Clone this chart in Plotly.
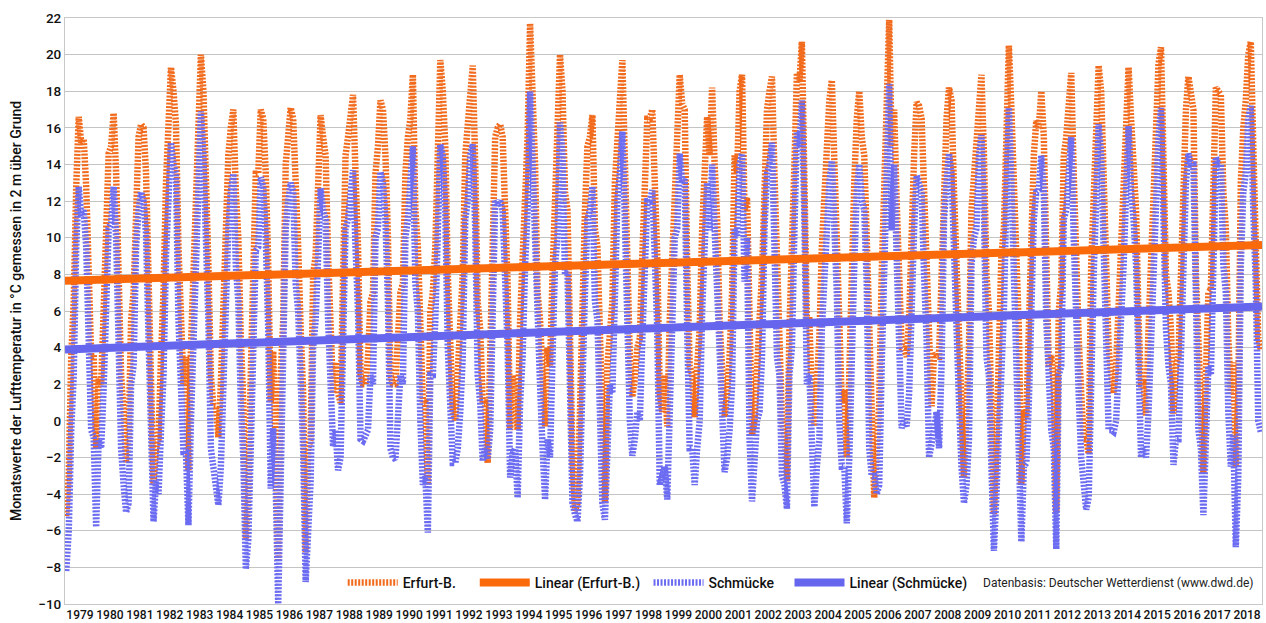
import plotly.graph_objects as go

# Monthly mean air temperature (°C), Jan..Dec per row, 1979-2018
erfurt = [
    -5.2, -3.0, 3.5, 6.5, 12.8, 16.6, 15.2, 15.4, 12.8, 8.6, 3.5, 3.6,      # 1979
    -1.5, 2.3, 2.0, 6.0, 11.0, 14.6, 15.0, 16.8, 13.5, 7.5, 2.5, 0.5,       # 1980
    -2.3, -1.0, 5.5, 7.0, 13.0, 15.5, 16.2, 16.0, 13.5, 8.5, 3.5, -3.5,     # 1981
    -1.5, -1.0, 3.5, 7.0, 13.0, 16.5, 19.3, 18.0, 16.2, 9.5, 5.5, 2.0,      # 1982
    3.5, -2.7, 4.0, 8.5, 11.5, 16.5, 20.0, 18.0, 14.0, 8.5, 2.5, 0.8,       # 1983
    0.8, -0.9, 2.0, 6.5, 10.5, 14.5, 16.0, 17.0, 12.5, 10.0, 4.5, 1.0,      # 1984
    -6.5, -4.0, 2.5, 7.5, 13.5, 13.5, 17.0, 16.5, 13.5, 8.5, 1.0, 3.8,      # 1985
    -1.0, -7.6, 2.5, 5.5, 14.0, 15.5, 17.1, 16.5, 11.5, 9.5, 5.0, 1.5,      # 1986
    -7.2, -1.5, -1.0, 8.0, 9.0, 13.0, 16.7, 15.5, 14.5, 9.0, 4.5, 1.5,      # 1987
    3.2, 1.5, 1.0, 8.0, 14.5, 15.5, 17.2, 17.8, 13.5, 9.5, 2.5, 2.0,        # 1988
    2.0, 3.5, 6.5, 7.0, 13.5, 15.0, 17.5, 17.0, 14.5, 10.0, 2.5, 2.0,       # 1989
    2.0, 5.5, 7.0, 7.5, 13.5, 15.5, 16.5, 18.9, 11.5, 9.5, 4.0, 1.0,        # 1990
    1.0, -3.5, 6.0, 7.0, 9.5, 14.0, 19.7, 18.0, 15.0, 8.0, 3.5, 0.5,        # 1991
    0.0, 2.5, 5.0, 8.0, 14.5, 16.5, 18.5, 19.4, 14.0, 6.5, 5.0, 1.0,        # 1992
    1.0, -2.3, 3.5, 10.0, 15.5, 16.0, 16.2, 15.5, 12.0, 7.5, -0.5, 2.5,     # 1993
    1.5, -0.5, 5.5, 8.5, 12.5, 15.5, 21.7, 18.0, 14.0, 7.0, 5.5, 2.5,       # 1994
    -0.3, 4.0, 3.0, 8.0, 12.5, 14.5, 20.0, 18.0, 12.5, 11.5, 3.0, -2.0,     # 1995
    -4.9, -4.5, 0.5, 8.0, 11.5, 15.0, 15.5, 16.7, 10.5, 9.5, 4.0, -2.0,     # 1996
    -4.5, 3.0, 5.5, 6.5, 13.0, 16.0, 17.5, 19.7, 14.0, 7.5, 3.5, 1.3,       # 1997
    2.3, 4.0, 4.5, 9.0, 14.0, 16.5, 16.5, 17.0, 13.0, 9.0, 1.5, 0.5,        # 1998
    2.5, -0.3, 5.5, 9.0, 13.5, 15.0, 18.9, 17.3, 17.0, 8.5, 3.0, 2.5,       # 1999
    0.2, 3.0, 5.0, 10.5, 14.5, 16.6, 14.5, 18.2, 14.0, 11.0, 5.5, 3.0,      # 2000
    0.2, 1.5, 3.5, 7.0, 14.5, 13.5, 18.0, 18.9, 11.5, 12.2, 3.5, -0.8,      # 2001
    0.0, 4.0, 5.5, 8.0, 14.0, 17.0, 18.0, 18.8, 13.5, 8.0, 5.5, 0.0,        # 2002
    -0.8, -3.3, 5.0, 8.5, 14.0, 19.0, 18.5, 20.7, 13.5, 5.5, 5.5, 1.0,      # 2003
    -0.3, 2.5, 4.5, 9.5, 12.5, 16.0, 17.5, 18.6, 14.0, 10.5, 4.0, 1.0,      # 2004
    1.7, -2.0, 2.5, 9.0, 13.0, 16.5, 18.0, 15.5, 14.5, 10.0, 3.0, 0.5,      # 2005
    -4.2, -1.5, 1.0, 8.0, 13.0, 16.5, 21.9, 15.0, 17.0, 12.0, 6.5, 4.0,     # 2006
    3.9, 3.5, 5.5, 11.5, 14.5, 17.4, 17.2, 16.5, 12.0, 8.0, 3.0, 0.8,       # 2007
    3.7, 3.5, 3.5, 8.0, 14.0, 16.5, 18.2, 17.5, 12.5, 9.0, 5.0, 1.0,        # 2008
    -3.1, 0.5, 4.0, 11.5, 13.5, 15.0, 18.0, 18.9, 14.5, 8.0, 6.0, 0.5,      # 2009
    -5.1, -1.5, 4.0, 9.0, 10.5, 16.5, 20.5, 17.0, 12.5, 7.5, 5.0, -3.5,     # 2010
    0.5, 0.2, 4.5, 11.5, 14.5, 16.4, 16.0, 18.0, 15.5, 9.0, 3.0, 3.6,       # 2011
    2.0, -5.0, 6.0, 7.5, 14.5, 15.5, 17.5, 19.0, 13.5, 8.0, 4.5, 1.5,       # 2012
    -1.0, -1.0, -1.8, 8.5, 12.0, 16.0, 19.4, 18.0, 13.0, 10.5, 4.0, 2.5,    # 2013
    1.5, 3.0, 6.5, 10.5, 12.5, 16.0, 19.3, 16.5, 14.5, 11.5, 5.5, 2.0,      # 2014
    2.0, 0.3, 5.0, 8.5, 12.5, 15.5, 19.5, 20.4, 13.0, 8.0, 7.0, 5.0,        # 2015
    0.4, 3.0, 3.5, 8.0, 13.5, 17.0, 18.8, 17.5, 17.0, 8.0, 3.5, 1.0,        # 2016
    -2.85, 2.5, 7.0, 7.2, 14.0, 18.2, 18.0, 17.8, 12.5, 10.5, 4.5, 1.5,     # 2017
    3.2, -2.5, 1.5, 13.0, 16.0, 17.5, 20.0, 20.7, 15.0, 11.0, 4.5, 3.9,     # 2018
]

schmuecke = [
    -8.2, -6.0, -0.5, 2.5, 9.5, 12.8, 11.2, 11.5, 9.5, 5.0, -0.5, -0.9,     # 1979
    -5.8, -1.0, -1.5, 1.8, 7.5, 10.5, 10.8, 12.8, 10.0, 3.5, -1.5, -3.5,    # 1980
    -5.0, -4.5, 2.0, 3.0, 9.5, 11.5, 12.5, 12.0, 10.2, 4.5, 0.0, -5.5,      # 1981
    -3.3, -4.0, -0.5, 2.5, 9.0, 13.0, 15.2, 14.0, 13.5, 5.5, 2.0, -1.7,     # 1982
    -1.7, -5.7, 0.0, 5.0, 7.5, 13.0, 16.9, 14.5, 10.5, 5.5, -1.5, -2.5,     # 1983
    -3.5, -4.6, -2.5, 2.5, 6.5, 10.5, 12.5, 13.5, 8.5, 6.5, 1.0, -2.0,      # 1984
    -8.1, -6.5, -1.5, 3.0, 9.3, 9.5, 13.3, 12.8, 10.0, 5.0, -3.7, -0.4,     # 1985
    -3.5, -10.0, -2.0, 1.5, 10.5, 12.0, 13.0, 12.5, 7.5, 6.0, 2.0, -1.5,    # 1986
    -8.8, -5.2, -3.3, 4.0, 5.5, 9.0, 12.7, 11.5, 11.0, 5.5, 1.0, -1.4,      # 1987
    -0.5, -2.7, -2.0, 3.5, 10.5, 11.0, 13.0, 13.7, 9.5, 6.0, -1.0, -1.1,    # 1988
    -0.8, -0.5, 2.5, 2.0, 10.0, 10.5, 13.6, 13.0, 11.0, 6.5, -1.5, -2.0,    # 1989
    -2.1, 0.5, 2.5, 2.0, 10.0, 11.0, 13.0, 15.0, 7.5, 6.0, 0.0, -3.5,       # 1990
    -3.0, -6.1, 2.5, 2.5, 5.5, 10.0, 15.1, 14.5, 11.5, 4.0, -0.5, -2.3,     # 1991
    -2.3, -1.5, 0.5, 3.5, 11.0, 12.0, 14.5, 15.1, 10.5, 2.5, 1.0, -2.2,     # 1992
    -1.5, -2.1, -0.5, 6.0, 12.0, 11.8, 12.0, 11.5, 8.0, 4.0, -3.1, -1.8,    # 1993
    -1.5, -4.2, 1.0, 3.5, 8.5, 11.5, 18.0, 14.0, 10.0, 3.5, 2.0, -1.5,      # 1994
    -4.3, -1.0, -2.0, 3.5, 8.5, 10.0, 16.3, 14.5, 8.0, 8.1, -1.0, -4.5,     # 1995
    -5.1, -5.5, -3.0, 3.5, 7.0, 11.0, 11.5, 12.8, 6.5, 5.5, -0.5, -4.5,     # 1996
    -5.4, -0.5, 2.0, 1.5, 9.0, 12.0, 13.5, 15.8, 11.0, 3.0, 0.0, -1.9,      # 1997
    -1.0, 0.5, 0.0, 4.5, 10.0, 12.0, 12.0, 12.6, 9.0, 5.0, -3.5, -3.0,      # 1998
    -2.5, -4.3, 1.0, 4.5, 10.0, 10.5, 14.6, 13.0, 13.2, 5.0, -1.5, -1.5,    # 1999
    -3.5, -1.5, 0.0, 6.0, 10.0, 13.0, 10.4, 14.0, 10.5, 7.0, 2.0, -1.0,     # 2000
    -2.8, -2.0, -0.5, 2.0, 10.5, 10.1, 14.0, 14.6, 7.6, 10.0, -1.0, -4.4,   # 2001
    -2.5, 0.0, 0.5, 3.5, 10.5, 13.5, 14.0, 15.2, 9.5, 3.5, 2.5, -3.0,       # 2002
    -3.5, -4.8, 2.5, 4.0, 10.5, 15.8, 15.0, 17.5, 11.0, 2.0, 2.5, -2.0,     # 2003
    -4.7, -2.5, -1.0, 5.0, 8.0, 11.5, 13.0, 14.2, 11.0, 7.0, 0.0, -2.5,     # 2004
    -2.5, -5.6, -2.0, 4.5, 8.5, 12.5, 14.0, 12.1, 11.5, 7.5, -1.5, -3.0,    # 2005
    -3.0, -4.0, -3.5, 3.0, 9.0, 13.0, 18.4, 10.4, 14.0, 9.0, 4.0, -0.4,     # 2006
    0.0, -0.3, 1.5, 8.0, 10.5, 13.4, 12.8, 12.5, 8.0, 4.5, -2.0, -1.4,      # 2007
    -0.5, 0.5, -1.5, 3.0, 11.0, 13.0, 14.6, 13.5, 8.5, 6.0, 1.0, -2.5,      # 2008
    -4.5, -3.5, -1.0, 8.5, 10.0, 10.5, 14.5, 15.6, 11.5, 3.5, 2.5, -2.5,    # 2009
    -7.1, -4.0, -0.5, 4.5, 6.0, 12.5, 17.1, 13.0, 8.5, 3.0, 0.5, -6.6,      # 2010
    -2.5, -2.3, 1.0, 8.0, 11.0, 12.5, 12.6, 14.5, 12.5, 5.5, 2.0, -0.5,     # 2011
    -1.5, -7.0, 2.5, 3.0, 11.0, 11.5, 13.5, 15.5, 10.0, 4.5, 1.5, -2.0,     # 2012
    -4.0, -4.85, -4.2, 3.5, 8.0, 12.0, 16.2, 14.5, 9.5, 7.5, -0.5, -0.5,    # 2013
    -0.6, 0.0, 2.5, 6.5, 8.5, 12.5, 16.1, 12.5, 11.0, 8.5, 2.5, -2.0,       # 2014
    -1.5, -2.0, 0.5, 4.5, 8.5, 11.5, 15.5, 17.1, 9.5, 5.0, 3.0, 2.0,        # 2015
    -2.4, -1.0, -1.0, 3.5, 9.5, 13.0, 14.6, 14.0, 14.0, 4.0, -0.5, -1.5,    # 2016
    -5.15, -1.0, 3.0, 2.5, 10.0, 14.4, 14.0, 14.0, 8.5, 7.0, 0.5, -2.5,     # 2017
    -0.8, -6.9, -3.0, 8.5, 12.5, 13.5, 16.5, 17.2, 11.5, 7.5, 0.0, -0.6,    # 2018
]

years = list(range(1979, 2019))
year_labels = [str(y) for y in years]

# Linear trend end points (start of 1979, end of 2018)
trend_x = [1979, 2019]
trend_erfurt = [7.65, 9.6]
trend_schmuecke = [3.9, 6.25]

months_x = [1979 + (i + 0.5) / 12 for i in range(len(erfurt))]

C_ORANGE = "#F26A1B"
C_ORANGE_TR = "#FA6A0A"
C_BLUE = "#6C6CF2"
C_BLUE_TR = "#6565EE"
FONT = "Roboto, Liberation Sans, sans-serif"
TXT = "#111111"
NB = "\u00a0"  # extra spacing after legend entries

fig = go.Figure()
fig.add_trace(go.Scatter(
    x=months_x, y=erfurt, mode="lines", name="Erfurt-B." + NB * 4,
    line=dict(color=C_ORANGE, width=6.5, dash="2px,1.5px"), legendrank=1))
fig.add_trace(go.Scatter(
    x=months_x, y=schmuecke, mode="lines", name="Schmücke" + NB * 3,
    line=dict(color=C_BLUE, width=6.5, dash="2px,1.5px"), legendrank=3))
fig.add_trace(go.Scatter(
    x=trend_x, y=trend_erfurt, mode="lines", name="Linear (Erfurt-B.)" + NB,
    line=dict(color=C_ORANGE_TR, width=8), legendrank=2))
fig.add_trace(go.Scatter(
    x=trend_x, y=trend_schmuecke, mode="lines", name="Linear (Schmücke)",
    line=dict(color=C_BLUE_TR, width=8), legendrank=4))

fig.update_layout(
    width=1266, height=623,
    margin=dict(l=65, r=4, t=18, b=19, autoexpand=False),
    paper_bgcolor="white", plot_bgcolor="white",
    font=dict(family=FONT, size=13, color=TXT),
    showlegend=True,
    legend=dict(
        orientation="h", x=0.232, y=0.036, xanchor="left", yanchor="middle",
        bgcolor="rgba(255,255,255,0)",
        font=dict(family=FONT, size=14, color=TXT, weight=500),
        itemwidth=50, tracegroupgap=0, traceorder="normal",
    ),
    xaxis=dict(
        range=[1979, 2019],
        tickmode="array",
        tickvals=[y + 0.5 for y in years],
        ticktext=year_labels,
        tickangle=0,
        ticks="", showgrid=False, zeroline=False,
        showline=True, linecolor="#C8C8C8", linewidth=1, mirror=True,
        tickfont=dict(family=FONT, size=12, color=TXT, weight=500),
        ticklabelstandoff=0,
    ),
    yaxis=dict(
        range=[-10, 22], dtick=2, tick0=0,
        showgrid=True, gridcolor="#C4C4C4", gridwidth=1,
        zeroline=False, ticks="",
        showline=True, linecolor="#C8C8C8", linewidth=1, mirror=True,
        tickfont=dict(family=FONT, size=13.5, color=TXT, weight=500),
        title=dict(text="Monatswerte der Lufttemperatur in °C gemessen in 2 m über Grund",
                   font=dict(family=FONT, size=14, color=TXT, weight=500), standoff=13),
    ),
    annotations=[dict(
        text="Datenbasis: Deutscher Wetterdienst (www.dwd.de)",
        xref="paper", yref="paper", x=0.994, y=0.036, xanchor="right", yanchor="middle",
        showarrow=False, font=dict(family=FONT, size=12, color="#222222"))],
)

fig.write_html(
    "out.html",
    config={"displayModeBar": False},
    post_script="document.body.style.margin='0';document.body.style.overflow='hidden';",
)
